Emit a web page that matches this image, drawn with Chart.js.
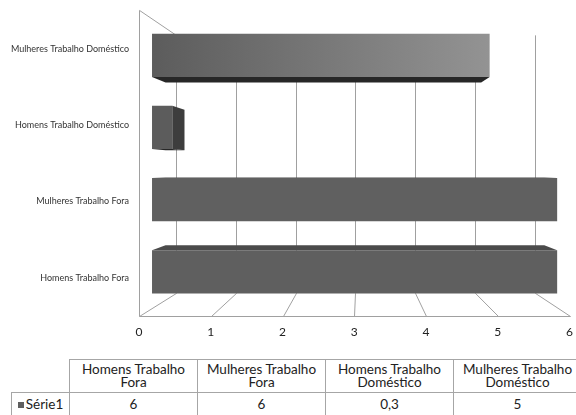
<!DOCTYPE html>
<html lang="pt">
<head>
<meta charset="utf-8">
<script src="https://cdn.jsdelivr.net/npm/chart.js@4/dist/chart.umd.min.js"></script>
<style>
  html, body { margin: 0; padding: 0; background: #fff; }
  #wrap { position: relative; width: 576px; height: 415px; overflow: hidden; }
  #chartBox { position: absolute; left: 0; top: -5px; width: 582px; height: 350px; }
  #dataTable {
    position: absolute; left: 11px; top: 359px; width: 570px;
    border-collapse: collapse; table-layout: fixed;
    font-family: Lato, "Open Sans", sans-serif; font-size: 13.5px; color: #222;
  }
  #dataTable td { border: 1px solid #a6a6a6; text-align: center; padding: 0; line-height: 13px; white-space: nowrap; overflow: hidden; }
  #dataTable tr.head td { height: 32px; }
  #dataTable tr.vals td { height: 22px; }
  #dataTable td.blank { border-top: none; border-left: none; }
  .key { display: inline-block; width: 6px; height: 6px; background: #5f5f5f; margin-right: 2px; vertical-align: 1px; }
</style>
</head>
<body>
<div id="wrap">
  <div id="chartBox"><canvas id="chart"></canvas></div>
  <table id="dataTable">
    <colgroup><col style="width:58px"><col style="width:128px"><col style="width:128px"><col style="width:128px"><col style="width:128px"></colgroup>
    <tr class="head"><td class="blank"></td></tr>
    <tr class="vals"></tr>
  </table>
</div>
<script>
// Series data
const categories = ["Homens Trabalho Fora", "Mulheres Trabalho Fora", "Homens Trabalho Doméstico", "Mulheres Trabalho Doméstico"];
const serie1 = [6, 6, 0.3, 5];
const seriesName = "Série1";
const xTicks = [0, 1, 2, 3, 4, 5, 6];

// Data table under the chart
(function buildTable() {
  const head = document.querySelector('#dataTable tr.head');
  const vals = document.querySelector('#dataTable tr.vals');
  categories.forEach(label => {
    const td = document.createElement('td');
    const cut = label.lastIndexOf(' ');
    td.appendChild(document.createTextNode(label.slice(0, cut)));
    td.appendChild(document.createElement('br'));
    td.appendChild(document.createTextNode(label.slice(cut + 1)));
    head.appendChild(td);
  });
  const nameCell = document.createElement('td');
  const key = document.createElement('span');
  key.className = 'key';
  nameCell.appendChild(key);
  nameCell.appendChild(document.createTextNode(seriesName));
  vals.appendChild(nameCell);
  serie1.forEach(v => {
    const td = document.createElement('td');
    td.textContent = String(v).replace('.', ',');
    vals.appendChild(td);
  });
})();

// Simple perspective: front plane = chart area, depth 1 = back wall
const VIEW = { fx: 0.513, fy: 0.52, shrinkX: 0.167, shrinkY: 0.157 };
const BAR_DEPTH = { front: 0.353, back: 0.72 };
const LINE_COLOR = '#a0a0a0';

function projector(area) {
  const vx = area.left + VIEW.fx * (area.right - area.left);
  const vy = area.top + VIEW.fy * (area.bottom - area.top);
  const p = (x, y, d) => {
    const sx = 1 - VIEW.shrinkX * d, sy = 1 - VIEW.shrinkY * d;
    return [vx + (x - vx) * sx, vy + (y - vy) * sy];
  };
  p.vx = vx; p.vy = vy;
  return p;
}

function line(ctx, a, b) {
  ctx.beginPath();
  ctx.moveTo(a[0], a[1]);
  ctx.lineTo(b[0], b[1]);
  ctx.stroke();
}

function poly(ctx, pts, fill) {
  ctx.beginPath();
  pts.forEach((q, i) => i ? ctx.lineTo(q[0], q[1]) : ctx.moveTo(q[0], q[1]));
  ctx.closePath();
  ctx.fillStyle = fill;
  ctx.fill();
}

const box3d = {
  id: 'box3d',
  // walls, floor and gridlines behind the bars
  beforeDatasetsDraw(chart) {
    const { ctx, chartArea: a, scales: { x } } = chart;
    const P = projector(a);
    ctx.save();
    ctx.strokeStyle = LINE_COLOR;
    ctx.lineWidth = 1;
    const xs = xTicks.map(v => Math.round(x.getPixelForValue(v)) + 0.5);
    const top = a.top, bottom = Math.round(a.bottom) + 0.5;
    // floor front edge
    line(ctx, [xs[0], bottom], [xs[xs.length - 1], bottom]);
    xs.forEach(px => {
      const backFloor = P(px, bottom, 1);
      const backTop = P(px, top, 1);
      backFloor[0] = Math.round(backFloor[0]) + 0.5;
      line(ctx, [px, bottom], backFloor);
      line(ctx, [backFloor[0], backFloor[1]], [backFloor[0], backTop[1]]);
    });
    // left wall edges
    line(ctx, [xs[0], top], [xs[0], bottom]);
    line(ctx, [xs[0], top], P(xs[0], top, 1));
    ctx.restore();
  },
  // the flat bars are replaced by projected boxes
  beforeDatasetDraw() { return false; },
  afterDatasetsDraw(chart, args, opts) {
    const { ctx, chartArea: a } = chart;
    const P = projector(a);
    const d1 = BAR_DEPTH.front, d2 = BAR_DEPTH.back;
    const ds = chart.data.datasets[0];
    const meta = chart.getDatasetMeta(0);
    ctx.save();
    meta.data.forEach((el, i) => {
      const { x, y, base, height } = el.getProps(['x', 'y', 'base', 'height'], true);
      const l = Math.min(x, base), r = Math.max(x, base);
      const t = y - height / 2, b = y + height / 2;
      if (t > P.vy) poly(ctx, [P(l, t, d1), P(r, t, d1), P(r, t, d2), P(l, t, d2)], opts.topColor);
      if (b < P.vy) poly(ctx, [P(l, b, d1), P(r, b, d1), P(r, b, d2), P(l, b, d2)], opts.bottomColor);
      if (r < P.vx) poly(ctx, [P(r, t, d1), P(r, b, d1), P(r, b, d2), P(r, t, d2)], opts.sideColor);
      if (l > P.vx) poly(ctx, [P(l, t, d1), P(l, b, d1), P(l, b, d2), P(l, t, d2)], opts.sideColor);
      const f0 = P(l, t, d1), f1 = P(r, b, d1);
      let fill = el.options.backgroundColor;
      const shine = ds.shineTo && ds.shineTo[i];
      if (shine) {
        fill = ctx.createLinearGradient(f0[0], 0, f1[0], 0);
        fill.addColorStop(0, el.options.backgroundColor);
        fill.addColorStop(1, shine);
      }
      poly(ctx, [f0, [f1[0], f0[1]], f1, [f0[0], f1[1]]], fill);
    });
    ctx.restore();
  }
};

new Chart(document.getElementById('chart'), {
  type: 'bar',
  data: {
    labels: categories,
    datasets: [{
      label: seriesName,
      data: serie1,
      backgroundColor: ['#5f5f5f', '#606060', '#5c5c5c', '#5c5c5c'],
      shineTo: [null, null, null, '#939393'],
      borderWidth: 0,
      barPercentage: 0.6,
      categoryPercentage: 1
    }]
  },
  plugins: [box3d],
  options: {
    indexAxis: 'y',
    responsive: true,
    maintainAspectRatio: false,
    devicePixelRatio: 1,
    animation: false,
    layout: { padding: { top: 5, right: 0, left: 0, bottom: 0 } },
    plugins: {
      legend: { display: false },
      tooltip: { enabled: false },
      box3d: { topColor: '#4b4b4b', bottomColor: '#272727', sideColor: '#3d3d3d' }
    },
    scales: {
      x: {
        min: 0, max: 6,
        grid: { display: false, drawTicks: false },
        border: { display: false },
        ticks: { stepSize: 1, padding: 9, color: '#222', font: { family: 'Lato', size: 12 } },
        afterFit(s) { s.height = 29; }
      },
      y: {
        reverse: true,
        grid: { display: false, drawTicks: false },
        border: { display: false },
        ticks: { padding: 10, color: '#333', font: { family: 'Lato', size: 9 } },
        afterFit(s) { s.width = 139; }
      }
    }
  }
});
</script>
</body>
</html>
